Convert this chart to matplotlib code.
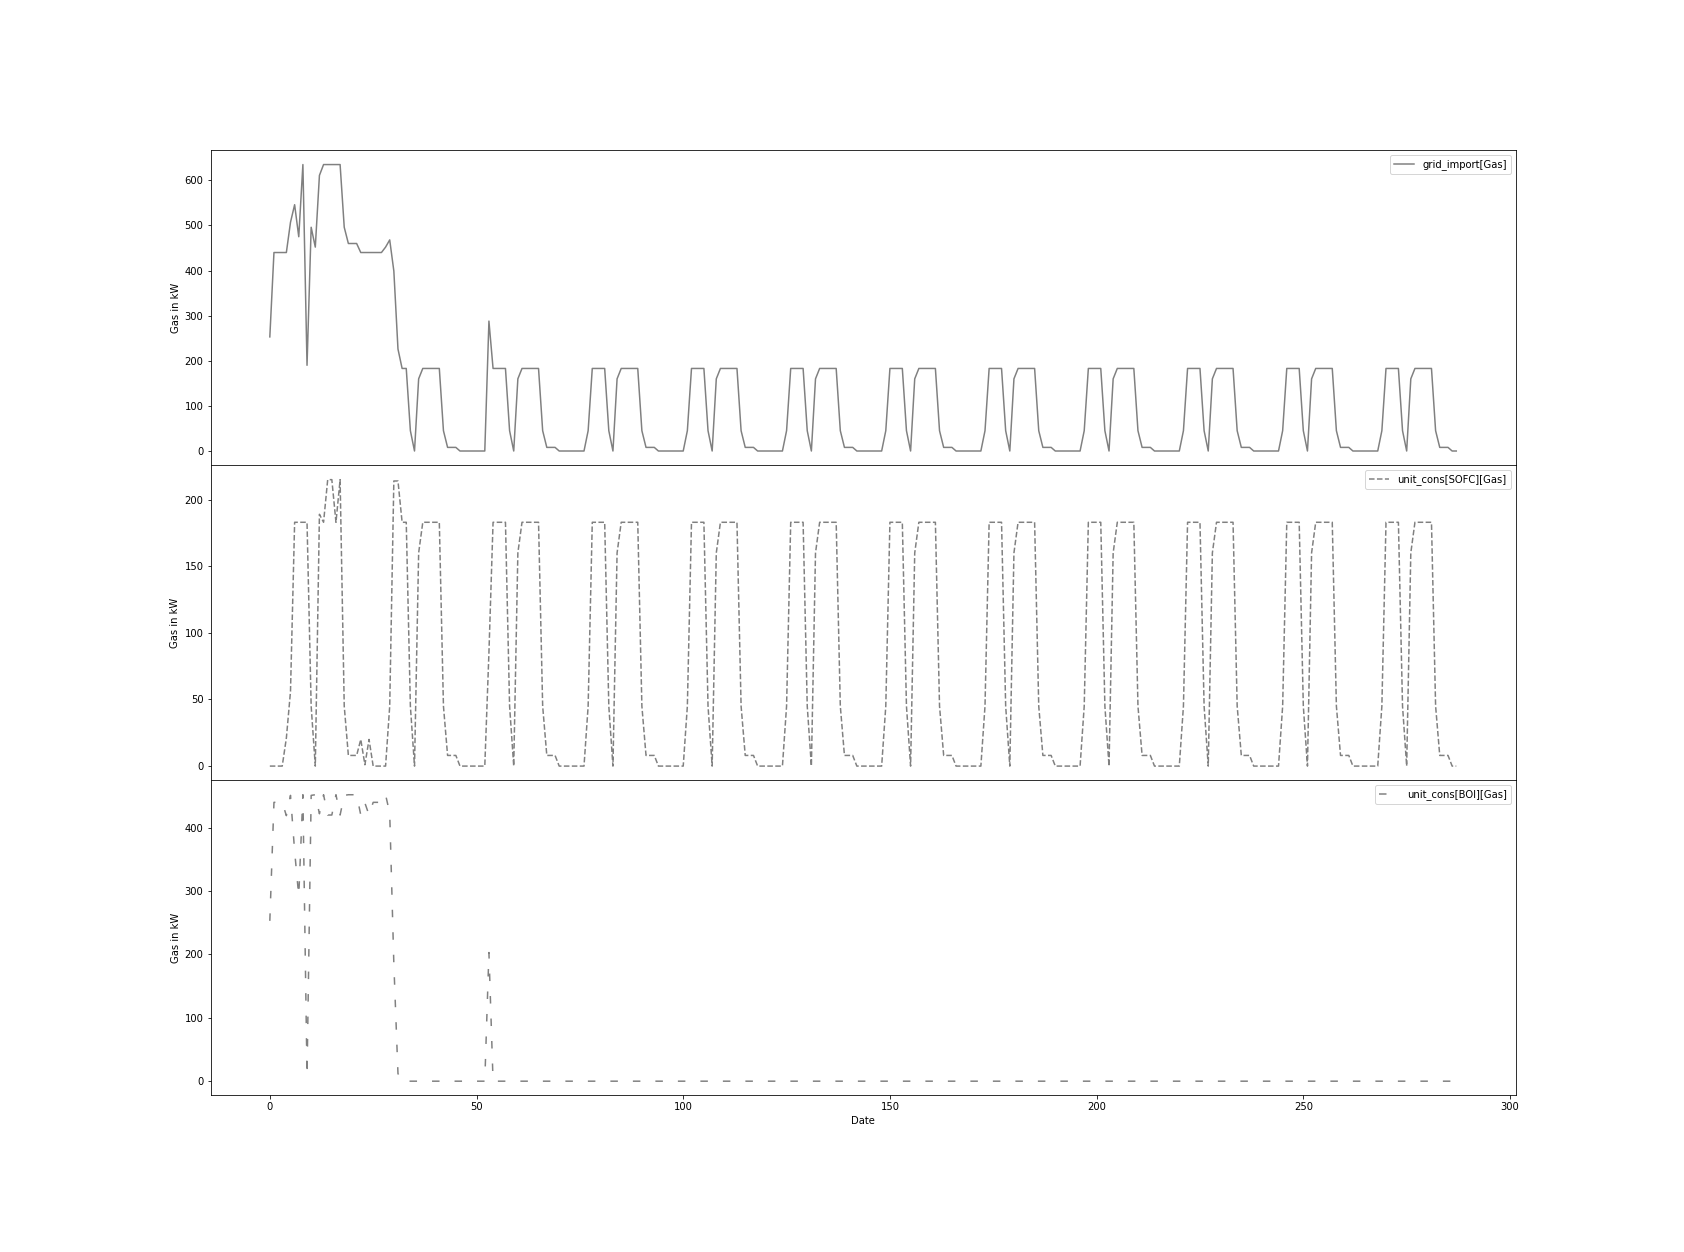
import numpy as np
import matplotlib
matplotlib.use("Agg")
import matplotlib.pyplot as plt

# ---- data (one row per day of 24 steps) ----
grid_import_days = [
    [253, 440, 440, 440, 440, 507, 546, 475, 635, 190, 496, 452, 611, 635, 635, 635, 635, 635, 496, 460, 460, 460, 440, 440],
    [440, 440, 440, 440, 452, 468, 399, 226, 183, 183, 45, 0, 160, 183, 183, 183, 183, 183, 45, 8, 8, 8, 0, 0],
    [0, 0, 0, 0, 0, 288, 183, 183, 183, 183, 45, 0, 160, 183, 183, 183, 183, 183, 45, 8, 8, 8, 0, 0],
    [0, 0, 0, 0, 0, 45, 183, 183, 183, 183, 45, 0, 160, 183, 183, 183, 183, 183, 45, 8, 8, 8, 0, 0],
    [0, 0, 0, 0, 0, 45, 183, 183, 183, 183, 45, 0, 160, 183, 183, 183, 183, 183, 45, 8, 8, 8, 0, 0],
    [0, 0, 0, 0, 0, 45, 183, 183, 183, 183, 45, 0, 160, 183, 183, 183, 183, 183, 45, 8, 8, 8, 0, 0],
    [0, 0, 0, 0, 0, 45, 183, 183, 183, 183, 45, 0, 160, 183, 183, 183, 183, 183, 45, 8, 8, 8, 0, 0],
    [0, 0, 0, 0, 0, 45, 183, 183, 183, 183, 45, 0, 160, 183, 183, 183, 183, 183, 45, 8, 8, 8, 0, 0],
    [0, 0, 0, 0, 0, 45, 183, 183, 183, 183, 45, 0, 160, 183, 183, 183, 183, 183, 45, 8, 8, 8, 0, 0],
    [0, 0, 0, 0, 0, 45, 183, 183, 183, 183, 45, 0, 160, 183, 183, 183, 183, 183, 45, 8, 8, 8, 0, 0],
    [0, 0, 0, 0, 0, 45, 183, 183, 183, 183, 45, 0, 160, 183, 183, 183, 183, 183, 45, 8, 8, 8, 0, 0],
    [0, 0, 0, 0, 0, 45, 183, 183, 183, 183, 45, 0, 160, 183, 183, 183, 183, 183, 45, 8, 8, 8, 0, 0],
]

sofc_days = [
    [0, 0, 0, 0, 21, 56, 183, 183, 183, 183, 45, 0, 189, 183, 215, 215, 183, 215, 45, 8, 8, 8, 20, 1],
    [20, 0, 0, 0, 0, 45, 214, 214, 183, 183, 45, 0, 160, 183, 183, 183, 183, 183, 45, 8, 8, 8, 0, 0],
    [0, 0, 0, 0, 0, 85, 183, 183, 183, 183, 45, 0, 160, 183, 183, 183, 183, 183, 45, 8, 8, 8, 0, 0],
    [0, 0, 0, 0, 0, 45, 183, 183, 183, 183, 45, 0, 160, 183, 183, 183, 183, 183, 45, 8, 8, 8, 0, 0],
    [0, 0, 0, 0, 0, 45, 183, 183, 183, 183, 45, 0, 160, 183, 183, 183, 183, 183, 45, 8, 8, 8, 0, 0],
    [0, 0, 0, 0, 0, 45, 183, 183, 183, 183, 45, 0, 160, 183, 183, 183, 183, 183, 45, 8, 8, 8, 0, 0],
    [0, 0, 0, 0, 0, 45, 183, 183, 183, 183, 45, 0, 160, 183, 183, 183, 183, 183, 45, 8, 8, 8, 0, 0],
    [0, 0, 0, 0, 0, 45, 183, 183, 183, 183, 45, 0, 160, 183, 183, 183, 183, 183, 45, 8, 8, 8, 0, 0],
    [0, 0, 0, 0, 0, 45, 183, 183, 183, 183, 45, 0, 160, 183, 183, 183, 183, 183, 45, 8, 8, 8, 0, 0],
    [0, 0, 0, 0, 0, 45, 183, 183, 183, 183, 45, 0, 160, 183, 183, 183, 183, 183, 45, 8, 8, 8, 0, 0],
    [0, 0, 0, 0, 0, 45, 183, 183, 183, 183, 45, 0, 160, 183, 183, 183, 183, 183, 45, 8, 8, 8, 0, 0],
    [0, 0, 0, 0, 0, 45, 183, 183, 183, 183, 45, 0, 160, 183, 183, 183, 183, 183, 45, 8, 8, 8, 0, 0],
]

boi_days = [
    [253, 440, 440, 440, 419, 451, 363, 292, 452, 8, 451, 452, 422, 452, 420, 420, 452, 420, 451, 452, 452, 452, 420, 439],
    [420, 440, 440, 440, 452, 423, 185, 12, 0, 0, 0, 0, 0, 0, 0, 0, 0, 0, 0, 0, 0, 0, 0, 0],
    [0, 0, 0, 0, 0, 203, 0, 0, 0, 0, 0, 0, 0, 0, 0, 0, 0, 0, 0, 0, 0, 0, 0, 0],
    [0, 0, 0, 0, 0, 0, 0, 0, 0, 0, 0, 0, 0, 0, 0, 0, 0, 0, 0, 0, 0, 0, 0, 0],
    [0, 0, 0, 0, 0, 0, 0, 0, 0, 0, 0, 0, 0, 0, 0, 0, 0, 0, 0, 0, 0, 0, 0, 0],
    [0, 0, 0, 0, 0, 0, 0, 0, 0, 0, 0, 0, 0, 0, 0, 0, 0, 0, 0, 0, 0, 0, 0, 0],
    [0, 0, 0, 0, 0, 0, 0, 0, 0, 0, 0, 0, 0, 0, 0, 0, 0, 0, 0, 0, 0, 0, 0, 0],
    [0, 0, 0, 0, 0, 0, 0, 0, 0, 0, 0, 0, 0, 0, 0, 0, 0, 0, 0, 0, 0, 0, 0, 0],
    [0, 0, 0, 0, 0, 0, 0, 0, 0, 0, 0, 0, 0, 0, 0, 0, 0, 0, 0, 0, 0, 0, 0, 0],
    [0, 0, 0, 0, 0, 0, 0, 0, 0, 0, 0, 0, 0, 0, 0, 0, 0, 0, 0, 0, 0, 0, 0, 0],
    [0, 0, 0, 0, 0, 0, 0, 0, 0, 0, 0, 0, 0, 0, 0, 0, 0, 0, 0, 0, 0, 0, 0, 0],
    [0, 0, 0, 0, 0, 0, 0, 0, 0, 0, 0, 0, 0, 0, 0, 0, 0, 0, 0, 0, 0, 0, 0, 0],
]

labels = ["grid_import[Gas]", "unit_cons[SOFC][Gas]", "unit_cons[BOI][Gas]"]
ylabel = "Gas in kW"
xlabel = "Date"

grid_import = np.array(grid_import_days, dtype=float).ravel()
sofc = np.array(sofc_days, dtype=float).ravel()
boi = np.array(boi_days, dtype=float).ravel()
x = np.arange(len(grid_import))

DPI = 72
fig, axes = plt.subplots(3, 1, sharex=True, figsize=(1684 / DPI, 1252 / DPI), dpi=DPI)
fig.subplots_adjust(left=0.125, right=0.9, top=0.88, bottom=0.125, hspace=0)

styles = [dict(linestyle="-"), dict(linestyle="--"), dict(linestyle=(0, (5, 10)))]
for ax, y, lab, st in zip(axes, [grid_import, sofc, boi], labels, styles):
    ax.plot(x, y, color="gray", linewidth=1.5, label=lab, **st)
    ax.set_ylabel(ylabel)
    ax.legend(loc="upper right")

axes[-1].set_xlabel(xlabel)
fig.savefig("out.png", dpi=DPI)
